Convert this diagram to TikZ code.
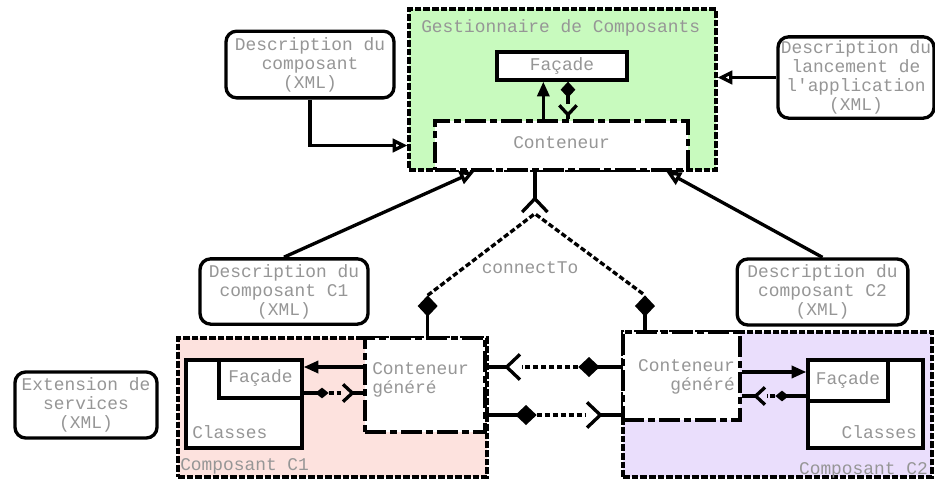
\documentclass[tikz,border=0pt]{standalone}
\usepackage{fontspec}
\setmonofont{Liberation Mono}
\usepackage{tikz}
\usetikzlibrary{arrows.meta,calc,fit}
\definecolor{txtgray}{RGB}{150,150,150}
\definecolor{gestgreen}{RGB}{200,250,190}
\definecolor{compApink}{RGB}{253,226,222}
\definecolor{compBlilac}{RGB}{234,222,252}
\begin{document}
\begin{tikzpicture}[x=0.75pt,y=-0.75pt,
txt/.style={font=\fontsize{13.4}{14.3}\selectfont\ttfamily,text=txtgray},
desc/.style={draw,line width=2.5pt,rounded corners=8pt,fill=white,align=center,inner sep=1pt,txt},
grp/.style={draw,line width=2.5pt,inner sep=0pt,dash pattern=on 5pt off 1.5pt},
ctr/.style={draw,fill=white,line width=2.5pt,inner sep=0pt,dash pattern=on 16pt off 3pt on 5pt off 3pt},
part/.style={draw,fill=white,line width=2.5pt,inner sep=0pt},
wire/.style={line width=2.5pt},
dwire/.style={line width=2.5pt,dash pattern=on 4pt off 2pt},
inh/.style={wire,-{Triangle[open,length=11pt,width=10pt]}},
calls/.style={wire,-{Triangle[length=11pt,width=9pt]}},
plug/.style={wire,-{Straight Barb[reversed,length=10pt,width=19pt]}},
splug/.style={wire,-{Straight Barb[reversed,length=7pt,width=13pt]}},
hold/.style={wire,{Diamond[length=16pt,width=15pt]}-},
mhold/.style={wire,{Diamond[length=12pt,width=11pt]}-},
shold/.style={wire,{Diamond[length=10pt,width=8pt]}-}]
\useasboundingbox (0,0) rectangle (935,480);
\node[grp,fill=gestgreen,fit={(409,9) (716,170)}] (gest) {};
\node[txt,anchor=west,inner sep=0pt] (gestt) at (421,28) {Gestionnaire de Composants};
\node[part,fit={(497,52) (627,80)}] (fac0) {};
\node[txt] (fac0t) at (fac0) {Façade};
\node[ctr,fit={(435,121) (688,170)}] (cont) {};
\node[txt] (contt) at ($(cont)+(0,-3)$) {Conteneur};
\node[grp,fill=compApink,fit={(178,338) (487,477)}] (comp1) {};
\node[ctr,fit={(365,338) (485,432)}] (cg1) {};
\node[part,fit={(186,360) (302,448)}] (cls1) {};
\node[part,fit={(219,360) (302,398)}] (fac1) {};
\node[txt] (fac1t) at ($(fac1)+(0,-1)$) {Façade};
\node[txt,anchor=west,align=left,inner sep=0pt] (cg1t) at (372,380) {Conteneur\\généré};
\node[txt,anchor=west,inner sep=0pt] (cls1t) at (192,432) {Classes};
\node[grp,fill=compBlilac,fit={(623,332) (932,477)}] (comp2) {};
\node[ctr,fit={(623,332) (740,420)}] (cg2) {};
\node[part,fit={(808,360) (923,448)}] (cls2) {};
\node[part,fit={(808,360) (888,401)}] (fac2) {};
\node[txt] (fac2t) at ($(fac2)+(0,-1)$) {Façade};
\node[txt,anchor=east,align=right,inner sep=0pt] (cg2t) at (735,377) {Conteneur\\généré};
\node[txt,anchor=east,inner sep=0pt] (cls2t) at (917,432) {Classes};
\node[desc,minimum width=126pt,minimum height=50pt] (dcomp) at (310,64.5) {Description du\\composant\\(XML)};
\node[desc,minimum width=117pt,minimum height=61pt] (dlanc) at (856,77.5) {Description du\\lancement de\\l'application\\(XML)};
\node[desc,minimum width=126pt,minimum height=49pt] (dc1) at (284,291.5) {Description du\\composant C1\\(XML)};
\node[desc,minimum width=128pt,minimum height=49.5pt] (dc2) at (822.5,292) {Description du\\composant C2\\(XML)};
\node[desc,minimum width=106.5pt,minimum height=49.5pt] (dext) at (86,405) {Extension de\\services\\(XML)};
\draw[inh] (dcomp.south) |- (gest.west |- cont.west);
\draw[inh] (dlanc.west) -- (dlanc.west -| gest.east);
\coordinate (g1) at ($(gest.south west)+(67,0)$);
\coordinate (g2) at ($(gest.south west)+(259,0)$);
\draw[inh] (dc1.north) -- (g1);
\draw[inh] (dc2.north) -- (g2);
\coordinate (f0a) at ([xshift=-14pt]fac0.south);
\coordinate (f0b) at ([xshift=4.5pt]fac0.south);
\coordinate (y0) at ($(f0b)+(0,22)$);
\draw[calls] (f0a |- cont.north) -- (f0a);
\draw[mhold] (f0b) -- (y0);
\draw[splug] (f0b |- cont.north) -- (y0);
\coordinate (ct0) at ([xshift=-20pt]cont.south);
\coordinate (ct) at ($(ct0)+(0,42)$);
\draw[plug] (ct0) -- (ct);
\coordinate (d1) at ([xshift=2pt,yshift=30.75pt]cg1.north);
\coordinate (d2) at ([xshift=-27.4pt,yshift=26.25pt]cg2.north);
\draw[hold] (d1) -- (d1 |- cg1.north);
\draw[hold] (d2) -- (d2 |- cg2.north);
\draw[dwire] (d1) -- (ct) -- (d2);
\node[txt] (conn) at (530,268) {connectTo};
\coordinate (m1) at ($(cg2.west)+(-43,-9)$);
\draw[hold] (m1) -- (m1 -| cg2.west);
\draw[plug] (m1 -| cg1.east) -- ++(35,0) coordinate (b1);
\draw[dwire] (m1) -- (b1);
\coordinate (m2) at ($(cg1.east)+(50,30)$);
\draw[hold] (m2) -- (m2 -| cg1.east);
\draw[plug] (m2 -| cg2.west) -- ++(-36,0) coordinate (b2);
\draw[dwire] (m2) -- (b2);
\coordinate (c1a) at ([yshift=9pt]fac1.east);
\draw[calls] (c1a -| cg1.west) -- (c1a);
\coordinate (m3) at ($(fac1.east)+(25,14)$);
\draw[shold] (m3) -- (m3 -| fac1.east);
\draw[splug] (m3 -| cg1.west) -- ++(-22,0) coordinate (b3);
\draw[dwire] (m3) -- (b3);
\coordinate (c2a) at ([yshift=6.4pt]fac2.west);
\draw[calls] (c2a -| cg2.east) -- (c2a);
\coordinate (m4) at ($(fac2.west)+(-31,15.5)$);
\draw[shold] (m4) -- (m4 -| fac2.west);
\draw[splug] (m4 -| cg2.east) -- ++(25,0) coordinate (b4);
\draw[dwire] (m4) -- (b4);
\node[txt,anchor=west,inner sep=0pt] (comp1t) at (180,466) {Composant C1};
\node[txt,anchor=east,inner sep=0pt] (comp2t) at (928,470) {Composant C2};
\end{tikzpicture}
\end{document}
